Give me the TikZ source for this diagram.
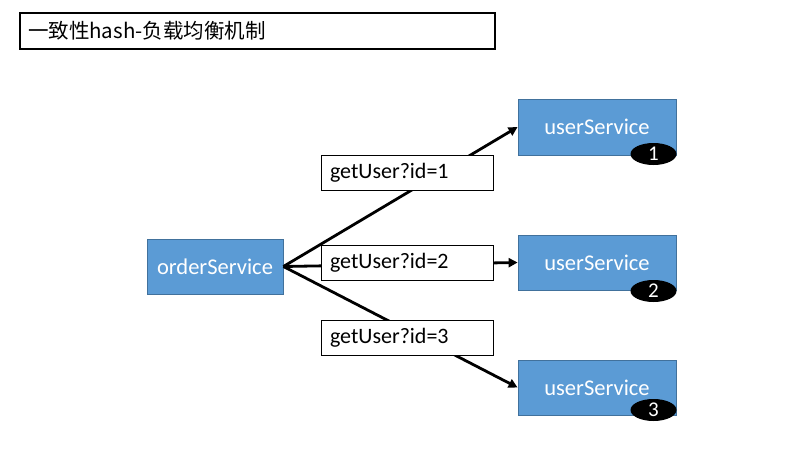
\documentclass[tikz,border=0pt]{standalone}
\usepackage{fontspec}
\setmainfont{Carlito}
\newfontfamily\cjk{Noto Sans CJK SC}
\usetikzlibrary{shapes.geometric,arrows.meta}
\definecolor{svcblue}{HTML}{5B9BD5}
\definecolor{svcborder}{HTML}{41719C}
\tikzset{
  svc/.style={draw=svcborder, line width=0.8pt, fill=svcblue, text=white, font=\fontsize{22.5}{26}\selectfont, inner sep=0pt, minimum height=55pt},
  lbl/.style={draw=black, line width=1.5pt, fill=white, font=\fontsize{22}{26}\selectfont, inner sep=0pt, minimum width=172pt, minimum height=35pt, text width=155pt, align=left},
  num/.style={ellipse, fill=black, text=white, inner sep=0pt, minimum width=46pt, minimum height=22pt, font=\fontsize{21}{22}\selectfont},
  conn/.style={line width=2.8pt, -{Triangle[length=9pt,width=9pt]}}
}
\begin{document}
\begin{tikzpicture}[x=1pt,y=-1pt]
\useasboundingbox (0,0) rectangle (788,448);
\fill[white] (0,0) rectangle (788,448);
\node[draw=black, line width=1.6pt, minimum width=475pt, minimum height=36pt, inner sep=0pt, text width=459pt, align=left, font=\cjk\fontsize{20.5}{24}\selectfont] (title) at (257.5,31) {一致性hash-负载均衡机制};
\node[svc, minimum width=136pt] (os) at (215,266.5) {orderService};
\node[svc, minimum width=158pt, minimum height=56pt] (u1) at (597,127) {userService};
\node[svc, minimum width=158pt] (u2) at (597,262.5) {userService};
\node[svc, minimum width=158pt] (u3) at (597,387.5) {userService};
\node[num] (n1) at (653.5,154) {1};
\node[num] (n2) at (653.5,291) {2};
\node[num] (n3) at (653.5,410) {3};
\draw[conn] (os.east) -- (u1.west);
\draw[conn] (os.east) -- (u2.west);
\draw[conn] (os.east) -- (u3.west);
\node[lbl] (l1) at (407.5,173) {getUser?id=1};
\node[lbl] (l2) at (407.5,263) {getUser?id=2};
\node[lbl] (l3) at (407.5,338) {getUser?id=3};
\end{tikzpicture}
\end{document}
